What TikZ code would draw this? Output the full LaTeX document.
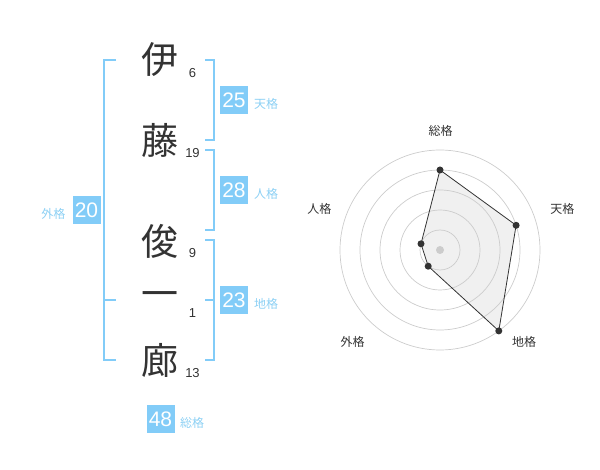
\documentclass[tikz,border=0pt]{standalone}
\usepackage{fontspec}
\setmainfont{Liberation Sans}
\newfontfamily\jp{Noto Sans CJK JP}
\definecolor{bl}{HTML}{82CCF8}
\definecolor{lbl}{HTML}{8CD0F4}
\definecolor{dk}{HTML}{333333}
\definecolor{grid}{HTML}{CCCCCC}
\definecolor{polyfill}{HTML}{F0F0F0}
\tikzset{
  kanji/.style={font=\jp\fontsize{37}{37}\selectfont, text=dk, inner sep=0pt},
  strk/.style={font=\fontsize{13}{13}\selectfont, text=dk, inner sep=0pt},
  numbox/.style={fill=bl, text=white, minimum width=28pt, minimum height=28pt, inner sep=0pt, font=\fontsize{21}{21}\selectfont},
  kaku/.style={font=\jp\fontsize{12}{12}\selectfont, text=lbl, inner sep=0pt},
  brk/.style={draw=bl, line width=2pt},
  rlab/.style={font=\jp\fontsize{12}{12}\selectfont, text=dk, inner sep=0pt},
  pt/.style={circle, fill=dk, minimum size=7pt, inner sep=0pt},
}
\begin{document}
\begin{tikzpicture}[x=1pt,y=-1pt]
\useasboundingbox (0,0) rectangle (600,470);
% kanji
\node[kanji] (k1) at (160,60) {伊};
\node[kanji] (k2) at (160,140) {藤};
\node[kanji] (k3) at (160,241) {俊};
\node[kanji] (k4) at (160,300) {一};
\node[kanji] (k5) at (160,360) {廊};
% stroke counts
\node[strk] (s1) at (192.5,72.7) {6};
\node[strk] (s2) at (192.5,152.7) {19};
\node[strk] (s3) at (192.5,252.7) {9};
\node[strk] (s4) at (192.5,312.7) {1};
\node[strk] (s5) at (192.5,372.7) {13};
% brackets
\draw[brk] (205,60) -- (214,60) -- (214,140) -- (205,140);
\draw[brk] (205,150) -- (214,150) -- (214,230) -- (205,230);
\draw[brk] (205,240) -- (214,240) -- (214,360) -- (205,360);
\draw[brk] (205,300) -- (214,300);
\draw[brk] (116,60) -- (104,60) -- (104,360) -- (116,360);
\draw[brk] (104,300) -- (116,300);
% boxes
\node[numbox] (b1) at (234,100) {25};
\node[kaku] (l1) at (266,104) {天格};
\node[numbox] (b2) at (234,190) {28};
\node[kaku] (l2) at (266,194) {人格};
\node[numbox] (b3) at (234,300) {23};
\node[kaku] (l3) at (266,304) {地格};
\node[numbox] (b4) at (86.5,210) {20};
\node[kaku] (l4) at (53.5,214) {外格};
\node[numbox] (b5) at (160.5,419) {48};
\node[kaku] (l5) at (192,423) {総格};
% radar
\coordinate (p1) at (440,170);
\coordinate (p2) at (516.1,225.3);
\coordinate (p3) at (498.8,330.9);
\coordinate (p4) at (428.2,266.2);
\coordinate (p5) at (421.0,243.8);
\fill[polyfill] (p1) -- (p2) -- (p3) -- (p4) -- (p5) -- cycle;
\foreach \r in {20,40,60,80,100} \draw[grid, line width=0.7pt] (440,250) circle (\r);
\fill[grid] (440,250) circle (4);
\draw[dk, line width=0.8pt] (p1) -- (p2) -- (p3) -- (p4) -- (p5) -- cycle;
\foreach \p in {p1,p2,p3,p4,p5} \node[pt] at (\p) {};
\node[rlab] (r1) at (440.7,130.7) {総格};
\node[rlab] (r2) at (562.3,208.7) {天格};
\node[rlab] (r3) at (524,342.3) {地格};
\node[rlab] (r4) at (352.7,342.3) {外格};
\node[rlab] (r5) at (319.3,208.7) {人格};
\end{tikzpicture}
\end{document}
